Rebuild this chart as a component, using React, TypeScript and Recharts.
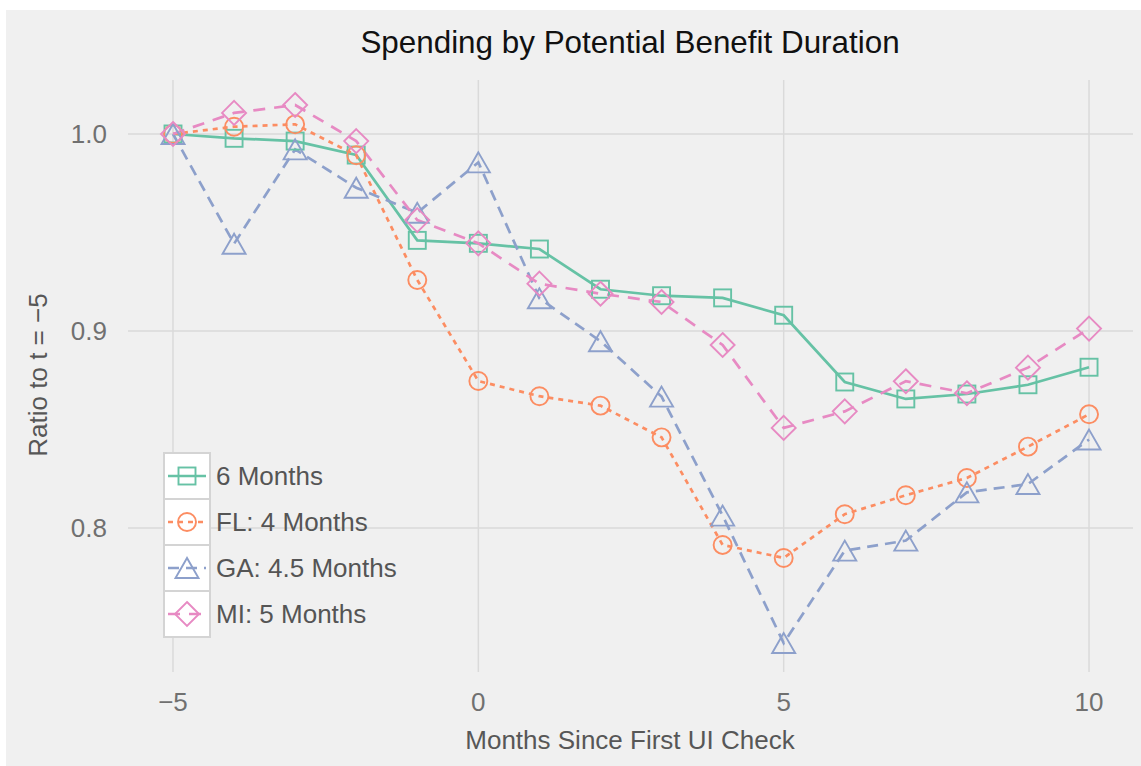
import React from 'react';
import { LineChart, Line, XAxis, YAxis, CartesianGrid, Legend } from 'recharts';

// months relative to first UI check
const months = [-5, -4, -3, -2, -1, 0, 1, 2, 3, 4, 5, 6, 7, 8, 9, 10];

const sixMonths = [1.0, 0.9978, 0.9964, 0.9893, 0.946, 0.9445, 0.9416, 0.9212, 0.9179, 0.9168, 0.908, 0.8741, 0.8655, 0.868, 0.8727, 0.8816];
const flFour = [1.0, 1.0037, 1.0049, 0.9892, 0.9259, 0.8746, 0.8669, 0.8621, 0.846, 0.7914, 0.7848, 0.807, 0.8166, 0.8254, 0.8413, 0.8577];
const gaFourHalf = [1.0, 0.9443, 0.9922, 0.9727, 0.96, 0.9856, 0.9166, 0.8948, 0.8667, 0.8063, 0.7416, 0.7885, 0.7936, 0.8181, 0.8223, 0.8449];
const miFive = [1.0, 1.0107, 1.0147, 0.9964, 0.9563, 0.9445, 0.924, 0.9189, 0.9147, 0.8929, 0.8508, 0.8592, 0.8745, 0.8684, 0.8814, 0.9012];

const xTicks = [-5, 0, 5, 10];
const yTicks = [0.8, 0.9, 1.0];

const series = [
  { key: 'six', name: '6 Months', values: sixMonths, color: '#66c2a5', dash: undefined, shape: 'square' },
  { key: 'fl', name: 'FL: 4 Months', values: flFour, color: '#fc8d62', dash: '5 5', shape: 'circle' },
  { key: 'ga', name: 'GA: 4.5 Months', values: gaFourHalf, color: '#8da0cb', dash: '11 7', shape: 'triangle' },
  { key: 'mi', name: 'MI: 5 Months', values: miFive, color: '#e78ac3', dash: '12 9', shape: 'diamond' },
];

const rows = months.map((t, i) => {
  const row: Record<string, number> = { t };
  series.forEach((s) => {
    row[s.key] = s.values[i];
  });
  return row;
});

const FONT = '"Liberation Sans", Arial, Helvetica, sans-serif';

function Marker({ shape, cx, cy, color }: { shape: string; cx: number; cy: number; color: string }) {
  const common = { fill: 'none', stroke: color, strokeWidth: 1.9 };
  if (shape === 'square') return <rect x={cx - 8.5} y={cy - 8.5} width={17} height={17} {...common} />;
  if (shape === 'circle') return <circle cx={cx} cy={cy} r={9} {...common} />;
  if (shape === 'triangle')
    return <polygon points={`${cx},${cy - 10} ${cx - 11.5},${cy + 10} ${cx + 11.5},${cy + 10}`} {...common} />;
  return <polygon points={`${cx},${cy - 12} ${cx + 12},${cy} ${cx},${cy + 12} ${cx - 12},${cy}`} {...common} />;
}

const fmtX = (v: number) => (v < 0 ? `\u2212${Math.abs(v)}` : String(v));

function renderLegend() {
  return (
    <div style={{ display: 'flex', fontFamily: FONT }}>
      <div style={{ background: '#d4d4d4', padding: 2, display: 'flex', flexDirection: 'column', gap: 2 }}>
        {series.map((s) => (
          <svg key={s.key} width={44} height={44} style={{ background: '#fff', display: 'block' }}>
            <line x1={3} x2={41} y1={22} y2={22} stroke={s.color} strokeWidth={2.6} strokeDasharray={s.dash} />
            <Marker shape={s.shape} cx={22} cy={22} color={s.color} />
          </svg>
        ))}
      </div>
      <div style={{ display: 'flex', flexDirection: 'column', paddingTop: 2, gap: 2 }}>
        {series.map((s) => (
          <div key={s.key} style={{ height: 44, lineHeight: '44px', fontSize: 26, color: '#555', paddingLeft: 5, whiteSpace: 'nowrap' }}>
            {s.name}
          </div>
        ))}
      </div>
    </div>
  );
}

export default function App() {
  return (
    <div
      style={{
        position: 'absolute',
        left: 6,
        top: 10,
        width: 1135,
        height: 756,
        background: '#f0f0f0',
        fontFamily: FONT,
      }}
    >
      <svg width={1135} height={60} style={{ position: 'absolute', left: 0, top: 0 }}>
        <text x={624} y={43} textAnchor="middle" fontSize={31.4} fill="#111">
          Spending by Potential Benefit Duration
        </text>
      </svg>
      <LineChart width={1135} height={756} data={rows} margin={{ top: 70, right: 8, bottom: 0, left: 0 }}>
        <CartesianGrid stroke="#dadada" strokeWidth={1.5} syncWithTicks />
        <XAxis
          dataKey="t"
          type="number"
          domain={[-5.737, 10.72]}
          ticks={xTicks}
          tickFormatter={fmtX}
          axisLine={false}
          tickLine={false}
          tickSize={0}
          tickMargin={20.5}
          height={94}
          tick={{ fill: '#707070', fontSize: 26 }}
          label={{
            content: () => (
              <text x={624} y={739} textAnchor="middle" fontSize={26} fill="#575757">
                Months Since First UI Check
              </text>
            ),
          }}
        />
        <YAxis
          type="number"
          domain={[0.7269, 1.0274]}
          ticks={yTicks}
          tickFormatter={(v: number) => v.toFixed(1)}
          axisLine={false}
          tickLine={false}
          tickSize={0}
          tickMargin={21}
          width={122}
          tick={{ fill: '#707070', fontSize: 26 }}
          label={{
            content: () => (
              <text transform="translate(41,365) rotate(-90)" textAnchor="middle" fontSize={26} fill="#575757">
                Ratio to t = {'\u2212'}5
              </text>
            ),
          }}
        />
        <Legend
          layout="vertical"
          align="center"
          verticalAlign="middle"
          content={renderLegend}
          wrapperStyle={{ left: 157, top: 442, width: 'auto', height: 'auto' }}
        />
        {series.map((s) => (
          <Line
            key={s.key}
            dataKey={s.key}
            name={s.name}
            type="linear"
            stroke={s.color}
            strokeWidth={2.7}
            strokeDasharray={s.dash}
            isAnimationActive={false}
            activeDot={false}
            dot={(p: any) => <Marker key={`${s.key}-${p.index}`} shape={s.shape} cx={p.cx} cy={p.cy} color={s.color} />}
          />
        ))}
      </LineChart>
    </div>
  );
}
